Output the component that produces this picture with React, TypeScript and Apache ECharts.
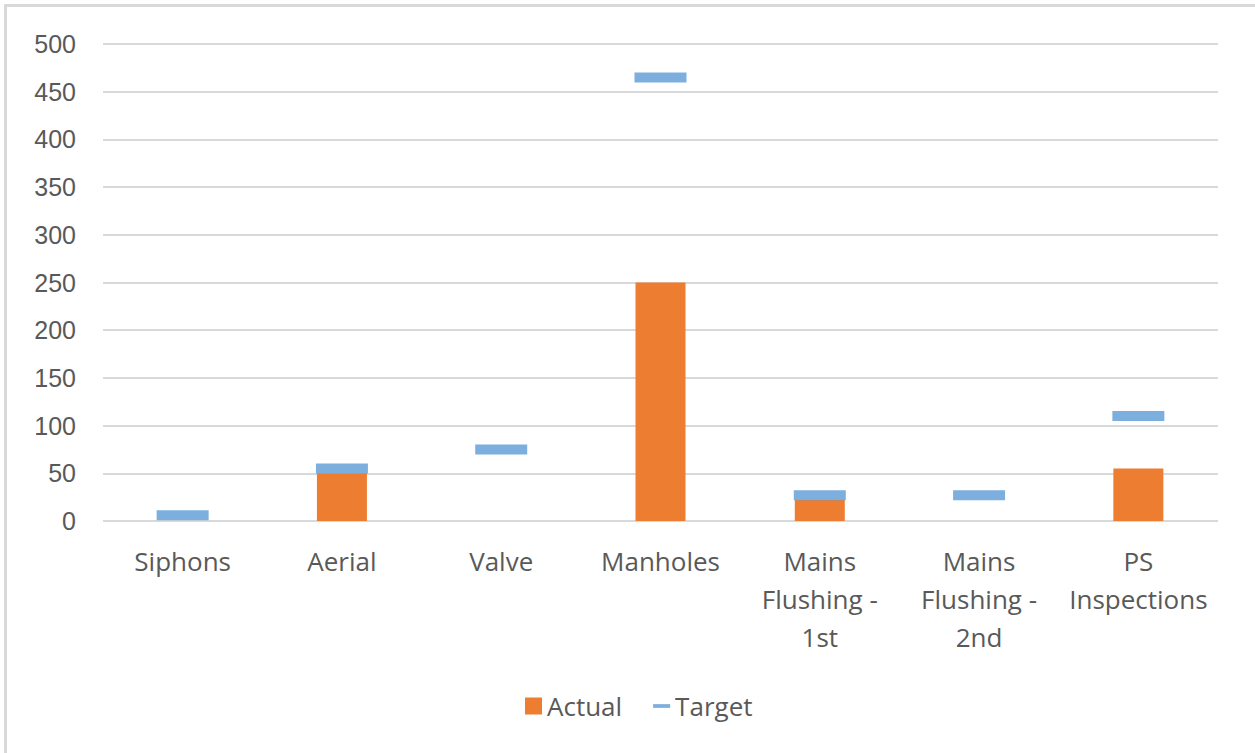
import React, { useEffect, useRef } from "react";
import * as echarts from "echarts";

const categories = [
  "Siphons",
  "Aerial",
  "Valve",
  "Manholes",
  "Mains Flushing - 1st",
  "Mains Flushing - 2nd",
  "PS Inspections",
];
const categoryLabels = [
  "Siphons",
  "Aerial",
  "Valve",
  "Manholes",
  "Mains\nFlushing -\n1st",
  "Mains\nFlushing -\n2nd",
  "PS\nInspections",
];
const actualValues = [0, 50, 0, 250, 22, 0, 55];
const targetValues = [6, 55, 75, 465, 27, 27, 110];
const yTicks = [0, 50, 100, 150, 200, 250, 300, 350, 400, 450, 500];

export default function App() {
  const ref = useRef<HTMLDivElement>(null);
  useEffect(() => {
    if (!ref.current) return;
    const chart = echarts.init(ref.current, undefined, { renderer: "svg" });
    const grey = "#595959";
    chart.setOption({
      animation: false,
      backgroundColor: "#ffffff",
      graphic: [
        {
          type: "rect",
          shape: { x: 5.5, y: 5.5, width: 1270, height: 770 },
          style: { fill: "none", stroke: "#d9d9d9", lineWidth: 3 },
          silent: true,
        },
      ],
      grid: { left: 103, right: 37, top: 44, bottom: 232, containLabel: false },
      legend: {
        left: 520,
        top: 686,
        itemWidth: 17,
        itemHeight: 17,
        itemGap: 31,
        textStyle: {
          color: grey,
          fontSize: 26,
          lineHeight: 30,
          fontFamily: "Open Sans",
        },
        data: [
          { name: "Actual", icon: "rect" },
          { name: "Target", icon: "path://M0,0h16v3.5h-16z" },
        ],
      },
      xAxis: {
        type: "category",
        data: categories,
        axisLine: { show: false },
        axisTick: { show: false },
        axisLabel: {
          color: grey,
          fontSize: 26,
          lineHeight: 38,
          fontFamily: "Open Sans",
          margin: 21,
          interval: 0,
          formatter: (v: string) => categoryLabels[categories.indexOf(v)],
        },
      },
      yAxis: {
        type: "value",
        min: yTicks[0],
        max: yTicks[yTicks.length - 1],
        interval: 50,
        axisLine: { show: false },
        axisTick: { show: false },
        axisLabel: {
          color: grey,
          fontSize: 25,
          fontFamily: "Liberation Sans",
          margin: 27,
        },
        splitLine: { lineStyle: { color: "#d9d9d9", width: 2 } },
      },
      series: [
        {
          name: "Actual",
          type: "bar",
          data: actualValues,
          barWidth: 50,
          itemStyle: { color: "#ED7D31" },
          z: 2,
        },
        {
          name: "Target",
          type: "scatter",
          data: targetValues,
          symbol: "rect",
          symbolSize: [52, 10],
          symbolKeepAspect: true,
          itemStyle: { color: "#5B9BD5" },
          z: 3,
        },
      ],
    });
    return () => chart.dispose();
  }, []);
  return (
    <div
      ref={ref}
      style={{ position: "fixed", left: 0, top: 0, width: 1255, height: 753 }}
    />
  );
}
